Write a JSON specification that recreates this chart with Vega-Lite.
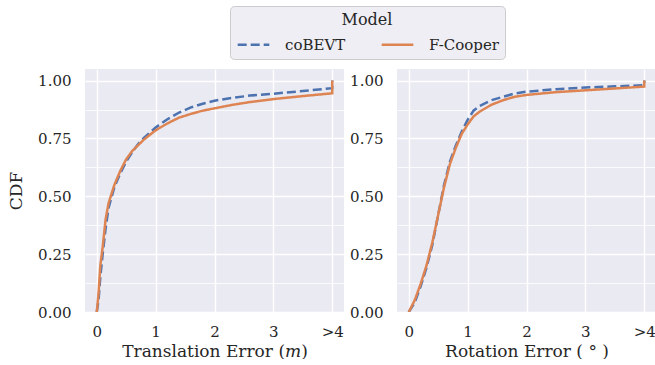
{
  "$schema": "https://vega.github.io/schema/vega-lite/v6.json",
  "padding": {"left": 7, "top": 5, "right": 0, "bottom": 0},
  "background": "white",
  "datasets": {
    "trans": [
      {"model": "coBEVT", "i": 0, "err": 0, "cdf": 0},
      {"model": "coBEVT", "i": 1, "err": 0.03, "cdf": 0.05},
      {"model": "coBEVT", "i": 2, "err": 0.06, "cdf": 0.15},
      {"model": "coBEVT", "i": 3, "err": 0.1, "cdf": 0.25},
      {"model": "coBEVT", "i": 4, "err": 0.15, "cdf": 0.36},
      {"model": "coBEVT", "i": 5, "err": 0.2, "cdf": 0.45},
      {"model": "coBEVT", "i": 6, "err": 0.3, "cdf": 0.54},
      {"model": "coBEVT", "i": 7, "err": 0.4, "cdf": 0.6},
      {"model": "coBEVT", "i": 8, "err": 0.5, "cdf": 0.65},
      {"model": "coBEVT", "i": 9, "err": 0.6, "cdf": 0.69},
      {"model": "coBEVT", "i": 10, "err": 0.7, "cdf": 0.725},
      {"model": "coBEVT", "i": 11, "err": 0.8, "cdf": 0.752},
      {"model": "coBEVT", "i": 12, "err": 1.0, "cdf": 0.797},
      {"model": "coBEVT", "i": 13, "err": 1.2, "cdf": 0.833},
      {"model": "coBEVT", "i": 14, "err": 1.4, "cdf": 0.862},
      {"model": "coBEVT", "i": 15, "err": 1.6, "cdf": 0.884},
      {"model": "coBEVT", "i": 16, "err": 1.8, "cdf": 0.9},
      {"model": "coBEVT", "i": 17, "err": 2.0, "cdf": 0.913},
      {"model": "coBEVT", "i": 18, "err": 2.3, "cdf": 0.925},
      {"model": "coBEVT", "i": 19, "err": 2.6, "cdf": 0.935},
      {"model": "coBEVT", "i": 20, "err": 3.0, "cdf": 0.943},
      {"model": "coBEVT", "i": 21, "err": 3.5, "cdf": 0.955},
      {"model": "coBEVT", "i": 22, "err": 4.0, "cdf": 0.967},
      {"model": "coBEVT", "i": 23, "err": 4.0, "cdf": 1.0},
      {"model": "F-Cooper", "i": 0, "err": 0, "cdf": 0},
      {"model": "F-Cooper", "i": 1, "err": 0.03, "cdf": 0.08},
      {"model": "F-Cooper", "i": 2, "err": 0.06, "cdf": 0.2},
      {"model": "F-Cooper", "i": 3, "err": 0.1, "cdf": 0.28},
      {"model": "F-Cooper", "i": 4, "err": 0.15, "cdf": 0.4},
      {"model": "F-Cooper", "i": 5, "err": 0.2, "cdf": 0.47},
      {"model": "F-Cooper", "i": 6, "err": 0.3, "cdf": 0.55},
      {"model": "F-Cooper", "i": 7, "err": 0.4, "cdf": 0.61},
      {"model": "F-Cooper", "i": 8, "err": 0.5, "cdf": 0.66},
      {"model": "F-Cooper", "i": 9, "err": 0.6, "cdf": 0.695},
      {"model": "F-Cooper", "i": 10, "err": 0.7, "cdf": 0.72},
      {"model": "F-Cooper", "i": 11, "err": 0.8, "cdf": 0.745},
      {"model": "F-Cooper", "i": 12, "err": 1.0, "cdf": 0.785},
      {"model": "F-Cooper", "i": 13, "err": 1.2, "cdf": 0.815},
      {"model": "F-Cooper", "i": 14, "err": 1.4, "cdf": 0.84},
      {"model": "F-Cooper", "i": 15, "err": 1.6, "cdf": 0.856},
      {"model": "F-Cooper", "i": 16, "err": 1.8, "cdf": 0.87},
      {"model": "F-Cooper", "i": 17, "err": 2.0, "cdf": 0.88},
      {"model": "F-Cooper", "i": 18, "err": 2.3, "cdf": 0.895},
      {"model": "F-Cooper", "i": 19, "err": 2.6, "cdf": 0.907},
      {"model": "F-Cooper", "i": 20, "err": 3.0, "cdf": 0.92},
      {"model": "F-Cooper", "i": 21, "err": 3.5, "cdf": 0.933},
      {"model": "F-Cooper", "i": 22, "err": 4.0, "cdf": 0.945},
      {"model": "F-Cooper", "i": 23, "err": 4.0, "cdf": 1.0}
    ],
    "rot": [
      {"model": "coBEVT", "i": 0, "err": 0, "cdf": 0},
      {"model": "coBEVT", "i": 1, "err": 0.1, "cdf": 0.04},
      {"model": "coBEVT", "i": 2, "err": 0.2, "cdf": 0.11},
      {"model": "coBEVT", "i": 3, "err": 0.3, "cdf": 0.19},
      {"model": "coBEVT", "i": 4, "err": 0.4, "cdf": 0.29},
      {"model": "coBEVT", "i": 5, "err": 0.5, "cdf": 0.42},
      {"model": "coBEVT", "i": 6, "err": 0.6, "cdf": 0.55},
      {"model": "coBEVT", "i": 7, "err": 0.7, "cdf": 0.65},
      {"model": "coBEVT", "i": 8, "err": 0.8, "cdf": 0.72},
      {"model": "coBEVT", "i": 9, "err": 0.9, "cdf": 0.78},
      {"model": "coBEVT", "i": 10, "err": 1.0, "cdf": 0.83},
      {"model": "coBEVT", "i": 11, "err": 1.1, "cdf": 0.87},
      {"model": "coBEVT", "i": 12, "err": 1.2, "cdf": 0.89},
      {"model": "coBEVT", "i": 13, "err": 1.4, "cdf": 0.915},
      {"model": "coBEVT", "i": 14, "err": 1.6, "cdf": 0.93},
      {"model": "coBEVT", "i": 15, "err": 1.8, "cdf": 0.944},
      {"model": "coBEVT", "i": 16, "err": 2.0, "cdf": 0.952},
      {"model": "coBEVT", "i": 17, "err": 2.5, "cdf": 0.963},
      {"model": "coBEVT", "i": 18, "err": 3.0, "cdf": 0.97},
      {"model": "coBEVT", "i": 19, "err": 3.5, "cdf": 0.975},
      {"model": "coBEVT", "i": 20, "err": 4.0, "cdf": 0.98},
      {"model": "coBEVT", "i": 21, "err": 4.0, "cdf": 1.0},
      {"model": "F-Cooper", "i": 0, "err": 0, "cdf": 0},
      {"model": "F-Cooper", "i": 1, "err": 0.1, "cdf": 0.05},
      {"model": "F-Cooper", "i": 2, "err": 0.2, "cdf": 0.12},
      {"model": "F-Cooper", "i": 3, "err": 0.3, "cdf": 0.2},
      {"model": "F-Cooper", "i": 4, "err": 0.4, "cdf": 0.3},
      {"model": "F-Cooper", "i": 5, "err": 0.5, "cdf": 0.42},
      {"model": "F-Cooper", "i": 6, "err": 0.6, "cdf": 0.54},
      {"model": "F-Cooper", "i": 7, "err": 0.7, "cdf": 0.64},
      {"model": "F-Cooper", "i": 8, "err": 0.8, "cdf": 0.71},
      {"model": "F-Cooper", "i": 9, "err": 0.9, "cdf": 0.77},
      {"model": "F-Cooper", "i": 10, "err": 1.0, "cdf": 0.81},
      {"model": "F-Cooper", "i": 11, "err": 1.1, "cdf": 0.845},
      {"model": "F-Cooper", "i": 12, "err": 1.2, "cdf": 0.865},
      {"model": "F-Cooper", "i": 13, "err": 1.4, "cdf": 0.895},
      {"model": "F-Cooper", "i": 14, "err": 1.6, "cdf": 0.915},
      {"model": "F-Cooper", "i": 15, "err": 1.8, "cdf": 0.93},
      {"model": "F-Cooper", "i": 16, "err": 2.0, "cdf": 0.938},
      {"model": "F-Cooper", "i": 17, "err": 2.5, "cdf": 0.95},
      {"model": "F-Cooper", "i": 18, "err": 3.0, "cdf": 0.958},
      {"model": "F-Cooper", "i": 19, "err": 3.5, "cdf": 0.966},
      {"model": "F-Cooper", "i": 20, "err": 4.0, "cdf": 0.974},
      {"model": "F-Cooper", "i": 21, "err": 4.0, "cdf": 1.0}
    ]
  },
  "spacing": 5,
  "hconcat": [
    {
      "width": 259,
      "height": 243,
      "data": {"name": "trans"},
      "mark": {"type": "line", "strokeWidth": 2.5, "clip": true},
      "encoding": {
        "x": {"field": "err", "type": "quantitative",
          "scale": {"domain": [-0.2, 4.2], "nice": false, "zero": false},
          "axis": {"values": [0, 1, 2, 3, 4], "labelExpr": "datum.value == 4 ? '>4' : datum.label", "title": "Translation Error (𝑚)",
            "labelFont": "DejaVu Serif", "titleFont": "DejaVu Serif"}},
        "y": {"field": "cdf", "type": "quantitative",
          "scale": {"domain": [0, 1.05], "nice": false},
          "axis": {"values": [0, 0.125, 0.25, 0.375, 0.5, 0.625, 0.75, 0.875, 1], "format": ".2f", "labelExpr": "(datum.value*8)%2 == 0 ? datum.label : ''", "title": "CDF",
            "labelFont": "DejaVu Serif", "titleFont": "DejaVu Serif",
            "gridWidth": {"condition": {"test": "(datum.value*8)%2 == 1", "value": 0.8}, "value": 1.4}}},
        "color": {"field": "model", "type": "nominal", "title": "Model",
          "scale": {"domain": ["coBEVT", "F-Cooper"], "range": ["#4c72b0", "#dd8452"]}},
        "strokeDash": {"field": "model", "type": "nominal", "title": "Model",
          "scale": {"domain": ["coBEVT", "F-Cooper"], "range": [[9, 4], [1, 0]]}},
        "order": {"field": "i", "type": "quantitative"}
      }
    },
    {
      "width": 259,
      "height": 243,
      "data": {"name": "rot"},
      "mark": {"type": "line", "strokeWidth": 2.5, "clip": true},
      "encoding": {
        "x": {"field": "err", "type": "quantitative",
          "scale": {"domain": [-0.2, 4.2], "nice": false, "zero": false},
          "axis": {"values": [0, 1, 2, 3, 4], "labelExpr": "datum.value == 4 ? '>4' : datum.label", "title": "Rotation Error ( ° )",
            "labelFont": "DejaVu Serif", "titleFont": "DejaVu Serif"}},
        "y": {"field": "cdf", "type": "quantitative",
          "scale": {"domain": [0, 1.05], "nice": false},
          "axis": {"values": [0, 0.125, 0.25, 0.375, 0.5, 0.625, 0.75, 0.875, 1], "format": ".2f", "labelExpr": "(datum.value*8)%2 == 0 ? datum.label : ''", "title": null,
            "labelFont": "DejaVu Serif", "titleFont": "DejaVu Serif",
            "gridWidth": {"condition": {"test": "(datum.value*8)%2 == 1", "value": 0.8}, "value": 1.4}}},
        "color": {"field": "model", "type": "nominal", "title": "Model",
          "scale": {"domain": ["coBEVT", "F-Cooper"], "range": ["#4c72b0", "#dd8452"]}},
        "strokeDash": {"field": "model", "type": "nominal", "title": "Model",
          "scale": {"domain": ["coBEVT", "F-Cooper"], "range": [[9, 4], [1, 0]]}},
        "order": {"field": "i", "type": "quantitative"}
      }
    }
  ],
  "config": {
    "font": "DejaVu Serif",
    "style": {
      "guide-label": {"font": "DejaVu Serif"},
      "guide-title": {"font": "DejaVu Serif"}
    },
    "view": {"stroke": null, "fill": "#eaeaf2"},
    "axis": {
      "domain": false, "ticks": false,
      "grid": true, "gridColor": "white", "gridWidth": 1.4,
      "labelFont": "DejaVu Serif", "labelFontSize": 15, "labelColor": "#262626", "labelPadding": 12,
      "titleFont": "DejaVu Serif", "titleFontSize": 17, "titleFontWeight": "normal", "titleColor": "#262626", "titlePadding": 4
    },
    "axisY": {"labelPadding": 14, "titlePadding": 12},
    "legend": {
      "orient": "none", "legendX": 145, "legendY": -63,
      "direction": "horizontal", "columns": 2,
      "titleAnchor": "middle", "titleOrient": "top",
      "titleFont": "DejaVu Serif", "titleFontSize": 16, "titleFontWeight": "normal", "titleColor": "#262626", "titlePadding": -1,
      "labelFont": "DejaVu Serif", "labelFontSize": 15, "labelColor": "#262626",
      "symbolType": "stroke", "symbolSize": 1000, "symbolStrokeWidth": 2.5,
      "labelOffset": 14, "columnPadding": 30,
      "fillColor": "#eeeef4", "strokeColor": "#cccccc", "cornerRadius": 4, "padding": 6
    }
  }
}
